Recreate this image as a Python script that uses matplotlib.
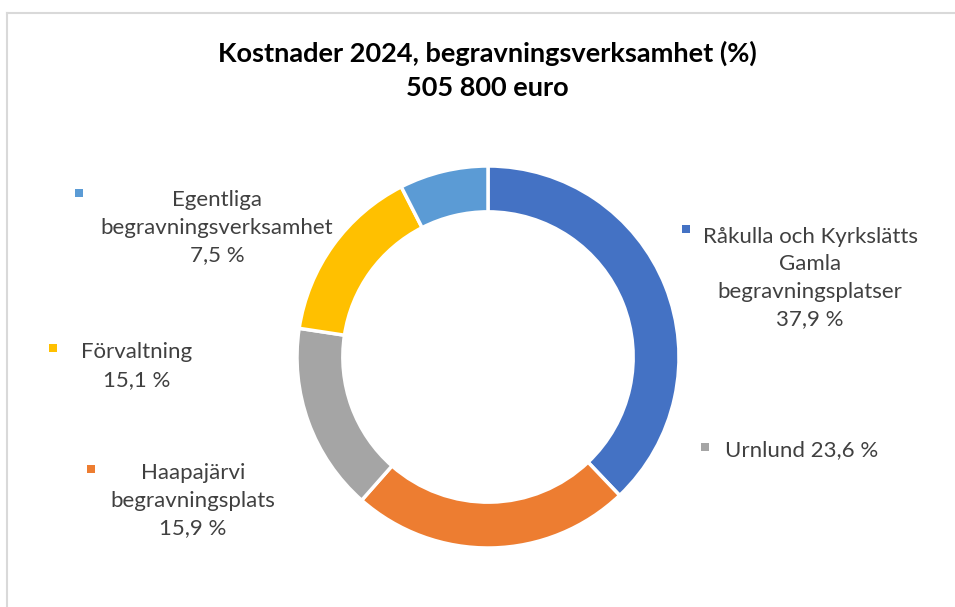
import matplotlib.pyplot as plt
from matplotlib.patches import Rectangle
from matplotlib.lines import Line2D

# Data (slice order, clockwise from the top)
values = [37.9, 23.6, 15.9, 15.1, 7.5]
slice_colors = ["#4472C4", "#ED7D31", "#A5A5A5", "#FFC000", "#5B9BD5"]

# Label texts and the marker colour shown next to each label
label_texts = [
    "Råkulla och Kyrkslätts\nGamla\nbegravningsplatser\n37,9 %",
    "Urnlund 23,6 %",
    "Haapajärvi\nbegravningsplats\n15,9 %",
    "Förvaltning\n15,1 %",
    "Egentliga\nbegravningsverksamhet\n7,5 %",
]
label_marker_colors = ["#4472C4", "#A5A5A5", "#ED7D31", "#FFC000", "#5B9BD5"]

title = "Kostnader 2024, begravningsverksamhet (%)\n505 800 euro"

W, H = 955, 607
plt.rcParams['font.family'] = ['Lato', 'DejaVu Sans']

fig = plt.figure(figsize=(W / 100, H / 100), dpi=100)

def fx(x):
    return x / W

def fy(y):
    return 1 - y / H

# frame lines (top and left like the cropped screenshot)
fig.add_artist(Line2D([fx(7), fx(955)], [fy(12.5), fy(12.5)], color="#D9D9D9", lw=1.5))
fig.add_artist(Line2D([fx(7), fx(7)], [fy(12.5), fy(607)], color="#D9D9D9", lw=1.5))

# donut
cx, cy, r = 488, 357, 191
ax = fig.add_axes([fx(cx - r), fy(cy + r), 2 * r / W, 2 * r / H])
ax.pie(values, colors=slice_colors, startangle=90, counterclock=False,
       radius=1, wedgeprops=dict(width=0.24, edgecolor="white", linewidth=2.5))
ax.set_xlim(-1, 1)
ax.set_ylim(-1, 1)
ax.set_aspect("equal")
ax.axis("off")

fig.text(fx(487), fy(70), title, ha="center", va="center", fontsize=19.5,
         fontweight="bold", color="black", linespacing=1.5)

# label positions: (text center x, text center y, marker x, marker y, ha)
label_pos = [
    (810, 278, 686, 229, "center"),
    (725, 450, 705, 447, "left"),
    (193, 501, 91, 469, "center"),
    (137, 366, 53, 348, "center"),
    (217, 228, 79, 193, "center"),
]

for txt, mc, (tx, ty, mx, my, ha) in zip(label_texts, label_marker_colors, label_pos):
    fig.text(fx(tx), fy(ty), txt, ha=ha, va="center", multialignment="center",
             fontsize=16, color="#404040", linespacing=1.47)
    s = 8
    fig.add_artist(Rectangle((fx(mx - s / 2), fy(my + s / 2)), s / W, s / H,
                             facecolor=mc, edgecolor="none", transform=fig.transFigure))

plt.savefig("out.png", dpi=100)
plt.close()
